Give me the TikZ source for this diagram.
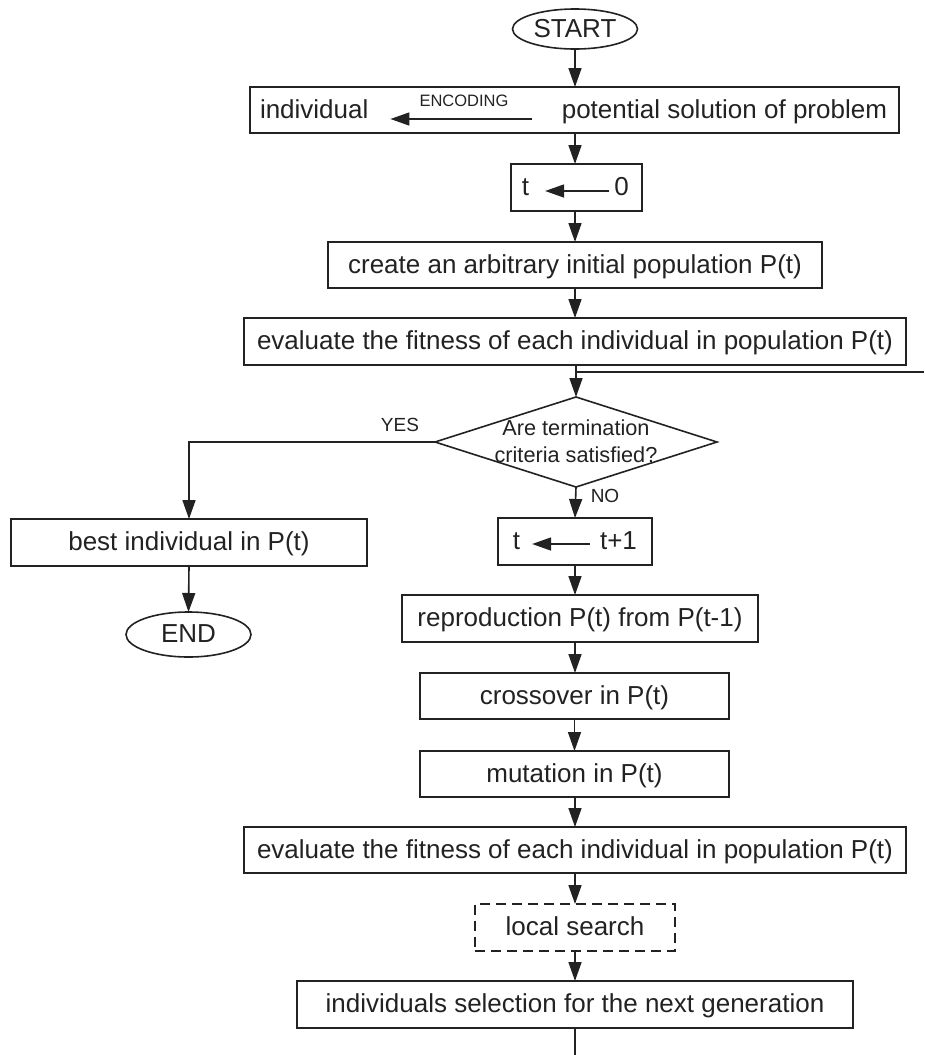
\documentclass[tikz,border=0pt]{standalone}
\usepackage{fontspec}
\setmainfont{Liberation Sans}
\usetikzlibrary{arrows.meta,shapes.geometric}
\definecolor{ink}{HTML}{222222}
\begin{document}
\begin{tikzpicture}[x=1pt,y=-1pt,
  every node/.style={inner sep=0pt,outer sep=0pt,text=ink},
  ln/.style={line width=1.6pt,draw=ink},
  txt/.style={font=\fontsize{26}{30}\selectfont,text height=19pt,text depth=3pt},
  box/.style={ln,rectangle,txt},
  term/.style={ln,ellipse,txt,minimum width=125pt},
  dbox/.style={box,dash pattern=on 10pt off 6pt},
  small/.style={font=\fontsize{19}{22}\selectfont},
  arr/.style={ln,-{Triangle[length=19pt,width=13pt]}},
  harr/.style={ln,-{Triangle[length=19pt,width=13pt]}}
]
\useasboundingbox (0,0) rectangle (924,1055);
\coordinate (ax) at (575,0);

% main column
\node[term,minimum height=40pt] (start) at (575,29) {START};
\node[box,minimum width=649pt,minimum height=46pt] (enc) at (574.5,110) {};
\node[txt,anchor=west] (indiv) at (260,110) {individual};
\node[txt,anchor=east] (pot) at (887,110) {potential solution of problem};
\node[font=\fontsize{16.5}{18}\selectfont] (enclbl) at (464,101) {ENCODING};

\node[box,minimum width=131pt,minimum height=47pt] (t0) at (576.5,187.5) {};
\node[txt] (t0l) at (525.5,187.5) {t};
\node[txt] (t0r) at (621.5,187.5) {0};

\node[box,minimum width=494pt,minimum height=46pt] (create) at (575,265) {create an arbitrary initial population P(t)};
\node[box,minimum width=662pt,minimum height=47pt] (eval1) at (575,341.5) {evaluate the fitness of each individual in population P(t)};

\node[ln,diamond,minimum width=282pt,minimum height=90pt] (dec) at (576,442) {};
\node[font=\fontsize{21.7}{27}\selectfont,align=center] (dect) at (576,441.5) {Are termination\\criteria satisfied?};

\node[box,minimum width=356pt,minimum height=47pt] (best) at (189,542.5) {best individual in P(t)};
\node[term,minimum height=45pt] (end) at (188.5,634.5) {END};

\node[box,minimum width=154pt,minimum height=47pt] (t1) at (575,541.5) {};
\node[txt] (t1l) at (516.5,541.5) {t};
\node[txt] (t1r) at (618.5,541.5) {t+1};

\node[box,minimum width=356pt,minimum height=47pt] (rep) at (580,618.5) {reproduction P(t) from P(t-1)};
\node[box,minimum width=309pt,minimum height=46pt] (cross) at (574.5,696) {crossover in P(t)};
\node[box,minimum width=309pt,minimum height=46pt] (mut) at (574.5,774) {mutation in P(t)};
\node[box,minimum width=662pt,minimum height=46pt] (eval2) at (575,850) {evaluate the fitness of each individual in population P(t)};
\node[dbox,minimum width=200pt,minimum height=47pt] (ls) at (575,927.5) {local search};
\node[box,minimum width=556pt,minimum height=47pt] (sel) at (575,1004.5) {individuals selection for the next generation};

\node[small] (yes) at (400,425) {YES};
\node[small] (no) at (605,496) {NO};

\coordinate (loopR) at (924,372);
\coordinate (loopJ) at (575,372);
\coordinate (bot) at (575,1055);

% connectors
\draw[arr] (start.south) -- (start.south |- enc.north);
\draw[harr] ([xshift=-30pt,yshift=-9pt]pot.west) -- ([xshift=22pt,yshift=-9pt]indiv.east);
\draw[arr] (ax |- enc.south) -- (ax |- t0.north);
\draw[harr] ([xshift=-5pt,yshift=-3.5pt]t0r.west) -- ([xshift=16pt,yshift=-3.5pt]t0l.east);
\draw[arr] (ax |- t0.south) -- (create.north);
\draw[arr] (create.south) -- (eval1.north);
\draw[arr] (eval1.south -| dec.north) -- (dec.north);
\draw[ln] (loopR) -- (loopJ);
\draw[arr] (dec.west) -| (best.north);
\draw[arr] (best.south) -- (end.north);
\draw[arr] (dec.south) -- (t1.north);
\draw[harr] ([xshift=-10pt,yshift=-2.5pt]t1r.west) -- ([xshift=12pt,yshift=-2.5pt]t1l.east);
\draw[arr] (t1.south) -- (t1.south |- rep.north);
\draw[arr] (ax |- rep.south) -- (ax |- cross.north);
\draw[arr] (cross.south) -- (mut.north);
\draw[arr] (ax |- mut.south) -- (eval2.north);
\draw[arr] (eval2.south) -- (ls.north);
\draw[arr] (ls.south) -- (sel.north);
\draw[ln] (sel.south) -- (bot);
\end{tikzpicture}
\end{document}
